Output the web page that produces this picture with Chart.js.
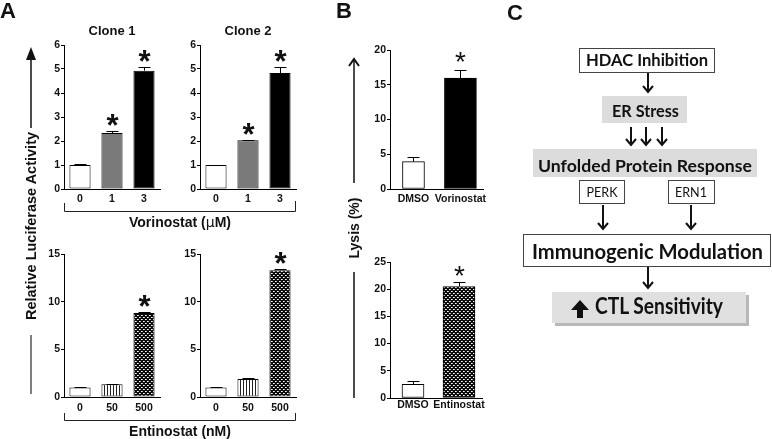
<!DOCTYPE html>
<html><head><meta charset="utf-8">
<script src="https://cdn.jsdelivr.net/npm/chart.js@4"></script>
<style>
html,body{margin:0;padding:0;background:#fff;}
#wrap{position:relative;width:772px;height:439px;overflow:hidden;background:#fff;}
canvas{position:absolute;}
#ov{position:absolute;left:0;top:0;pointer-events:none;}
</style></head><body>
<div id="wrap">
<canvas id="cA1"></canvas><canvas id="cA2"></canvas><canvas id="cA3"></canvas><canvas id="cA4"></canvas>
<canvas id="cB1"></canvas><canvas id="cB2"></canvas>
<svg id="ov" width="772" height="439" xmlns="http://www.w3.org/2000/svg">
 <g font-family="Liberation Sans, Arial, sans-serif" font-weight="bold" fill="#111">
  <text x="0" y="18" font-size="22">A</text>
  <text x="336" y="18" font-size="22">B</text>
  <text x="507" y="20" font-size="22">C</text>
  <text x="112" y="35" font-size="13" text-anchor="middle">Clone 1</text>
  <text x="248" y="35" font-size="13" text-anchor="middle">Clone 2</text>
  <text x="180" y="227" font-size="14" text-anchor="middle">Vorinostat (<tspan font-weight="normal" font-family="DejaVu Sans">μ</tspan>M)</text>
  <text x="180" y="436" font-size="14" text-anchor="middle">Entinostat (nM)</text>
  <text transform="translate(36,226) rotate(-90)" font-size="14.5" text-anchor="middle">Relative Luciferase Activity</text>
  <text transform="translate(359,228) rotate(-90)" font-size="14" text-anchor="middle">Lysis (%)</text>
 </g>
 <g fill="none" stroke="#222" stroke-width="1">
  <path d="M64.5,203 V211.5 H295.5 V201"/>
  <path d="M64.5,413 V420.5 H295.5 V413"/>
 </g>
 <g stroke="#111" fill="#111">
  <line x1="31" y1="58" x2="31" y2="128" stroke-width="1.5"/>
  <polygon points="31,47 26,60 36,60" stroke="none"/>
  <line x1="31" y1="335" x2="31" y2="394" stroke="#555" stroke-width="1.5"/>
  <line x1="354" y1="59" x2="354" y2="183" stroke-width="1.5"/>
  <path d="M349,66 L354,59 L359,66" fill="none" stroke-width="2"/>
  <line x1="354" y1="272" x2="354" y2="398" stroke-width="1.5"/>
 </g>
 <!-- Panel C -->
 <g font-family="Lato, 'Open Sans', sans-serif" fill="#111" text-anchor="middle">
  <rect x="579.5" y="48.5" width="135" height="24" fill="#fff" stroke="#444"/>
  <text x="647" y="66" font-size="17.5" font-weight="700" textLength="122" lengthAdjust="spacingAndGlyphs">HDAC Inhibition</text>
  <rect x="602" y="96" width="85" height="27" fill="#dcdcdc"/>
  <text x="645.5" y="117" font-size="17.5" font-weight="700" textLength="67" lengthAdjust="spacingAndGlyphs">ER Stress</text>
  <rect x="533" y="149" width="224" height="28" fill="#dcdcdc"/>
  <text x="645" y="172" font-size="17.5" font-weight="700" textLength="214" lengthAdjust="spacingAndGlyphs">Unfolded Protein Response</text>
  <rect x="579.5" y="180.5" width="45" height="23" fill="#fff" stroke="#444"/>
  <text x="602" y="197" font-size="13" textLength="31" lengthAdjust="spacingAndGlyphs">PERK</text>
  <rect x="668.5" y="180.5" width="46" height="23" fill="#fff" stroke="#444"/>
  <text x="691" y="197" font-size="13" textLength="32" lengthAdjust="spacingAndGlyphs">ERN1</text>
  <rect x="523.5" y="234.5" width="247" height="32" fill="#fff" stroke="#444"/>
  <text x="647.5" y="259" font-size="20.5" font-weight="700" textLength="231" lengthAdjust="spacingAndGlyphs">Immunogenic Modulation</text>
  <rect x="555" y="295" width="194" height="31" fill="#b8b8b8"/>
  <rect x="552" y="292" width="194" height="31" fill="#e0e0e0"/>
  <text x="595" y="314" font-size="22.5" font-weight="700" text-anchor="start" textLength="128" lengthAdjust="spacingAndGlyphs">CTL Sensitivity</text>
  <polygon points="580,300 571,310 577,310 577,318 583,318 583,310 589,310" fill="#111"/>
 </g>
 <g fill="none" stroke="#111" stroke-width="2">
  <path d="M648,73 V92 M643,86 L648,92 L653,86"/>
  <path d="M631,127 V145 M626,139 L631,145 L636,139"/>
  <path d="M646,127 V145 M641,139 L646,145 L651,139"/>
  <path d="M662,127 V145 M657,139 L662,145 L667,139"/>
  <path d="M603,205 V229 M598,223 L603,229 L608,223"/>
  <path d="M691,205 V229 M686,223 L691,229 L696,223"/>
  <path d="M648,267 V288 M643,282 L648,288 L653,282"/>
 </g>
</svg>
</div>
<script>
// ---------- data ----------
const doseVor = ['0', '1', '3'];
const doseEnt = ['0', '50', '500'];
const clone1Vor = [1.0, 2.33, 4.93];
const clone1VorErr = [0.05, 0.08, 0.17];
const clone2Vor = [1.0, 2.03, 4.83];
const clone2VorErr = [0.02, 0.03, 0.27];
const clone1Ent = [1.0, 1.35, 8.8];
const clone1EntErr = [0.04, 0.05, 0.15];
const clone2Ent = [1.0, 1.9, 13.3];
const clone2EntErr = [0.04, 0.1, 0.12];
const sigDose = [false, true, true];
const sigEntDose = [false, false, true];
const lysisVorLabels = ['DMSO', 'Vorinostat'];
const lysisVor = [3.94, 15.96];
const lysisVorErr = [0.6, 1.2];
const lysisEntLabels = ['DMSO', 'Entinostat'];
const lysisEnt = [2.5, 20.5];
const lysisEntErr = [0.7, 0.8];
const sigLysis = [false, true];
const yTicksA = [6, 1];
const yTicksAEnt = [15, 5];
const yTicksBVor = [20, 5];
const yTicksBEnt = [25, 5];

// ---------- fills ----------
function stripePattern() {
  const c = document.createElement('canvas'); c.width = 3; c.height = 3;
  const x = c.getContext('2d');
  x.fillStyle = '#fff'; x.fillRect(0, 0, 3, 3);
  x.fillStyle = '#222'; x.fillRect(0, 0, 1, 3);
  return x.createPattern(c, 'repeat');
}
function crossPattern() {
  const c = document.createElement('canvas'); c.width = 4; c.height = 4;
  const x = c.getContext('2d');
  x.fillStyle = '#0c0c0c'; x.fillRect(0, 0, 4, 4);
  x.fillStyle = '#fff'; x.fillRect(1, 1, 1, 1); x.fillRect(3, 3, 1, 1);
  x.fillStyle = '#bbb'; x.fillRect(2, 1, 1, 1); x.fillRect(0, 3, 1, 1);
  return x.createPattern(c, 'repeat');
}
const STRIPE = stripePattern();
const CROSS = crossPattern();

Chart.defaults.font.family = "'Liberation Sans', Arial, sans-serif";
Chart.defaults.font.weight = 'bold';
Chart.defaults.font.size = 10;
Chart.defaults.color = '#111';

const errPlugin = {
  id: 'errStars',
  afterDatasetsDraw(chart, args, o) {
    const ctx = chart.ctx, ys = chart.scales.y;
    ctx.save();
    ctx.strokeStyle = '#000'; ctx.lineWidth = 1; ctx.fillStyle = '#111';
    chart.data.datasets.forEach((ds, di) => {
      const meta = chart.getDatasetMeta(di);
      meta.data.forEach((el, i) => {
        const v = ds.data[i];
        if (v == null) return;
        const yT = Math.round(ys.getPixelForValue(v + o.errors[i])) + 0.5;
        const x = Math.round(el.x) + 0.5;
        ctx.beginPath();
        ctx.moveTo(x, el.y); ctx.lineTo(x, yT);
        ctx.moveTo(x - o.cap, yT); ctx.lineTo(x + o.cap, yT);
        ctx.stroke();
        if (o.stars[i]) {
          ctx.font = o.starFont;
          ctx.textAlign = 'center'; ctx.textBaseline = 'alphabetic';
          const m = ctx.measureText('*');
          const cy = yT - o.starGap;
          ctx.fillText('*', x, cy + (m.actualBoundingBoxAscent - m.actualBoundingBoxDescent) / 2);
        }
      });
    });
    ctx.restore();
  }
};

function makeChart(id, area, labels, datasets, yt, errors, stars, extra) {
  const yw = 26, pt = 10, pr = extra.pr || 6, xh = 22;
  const cv = document.getElementById(id);
  const L = area[0] - yw, T = area[1] - pt;
  cv.width = area[2] - L + pr; cv.height = area[3] - T + xh;
  cv.style.left = L + 'px'; cv.style.top = T + 'px';
  return new Chart(cv, {
    type: 'bar',
    data: { labels, datasets },
    options: {
      responsive: false, animation: false, devicePixelRatio: 1,
      layout: { padding: { top: pt, right: pr, bottom: 0, left: 0 } },
      plugins: { legend: { display: false }, tooltip: { enabled: false },
        errStars: { errors, stars, cap: extra.cap, starGap: extra.gap, starFont: extra.starFont } },
      scales: {
        x: {
          grid: { display: true, drawOnChartArea: false, drawTicks: false },
          border: { display: true, color: '#000', width: 1 },
          ticks: { padding: extra.xpad, color: '#111', maxRotation: 0, autoSkip: false, font: { size: 10.5, weight: 'bold' } },
          afterFit: s => { s.height = xh; }
        },
        y: {
          min: 0, max: yt[0],
          grid: { display: true, drawOnChartArea: false, drawTicks: true, tickLength: 3, color: '#000' },
          border: { display: true, color: '#000', width: 1 },
          ticks: { stepSize: yt[1], padding: 1, color: '#111', font: { size: 10.5, weight: 'bold' } },
          afterFit: s => { s.width = yw; }
        }
      }
    },
    plugins: [errPlugin]
  });
}

const barA = (vals, fills) => [{ data: vals, backgroundColor: fills, borderColor: '#000', borderWidth: 1,
  borderSkipped: false, barPercentage: 0.66, categoryPercentage: 1 }];
const optA = { cap: 6, gap: 12, starFont: "bold 31px 'Liberation Sans', Arial", xpad: 4 };
const optAE = { cap: 6, gap: 12, starFont: "bold 31px 'Liberation Sans', Arial", xpad: 5 };

makeChart('cA1', [64, 45, 160, 189], doseVor, barA(clone1Vor, ['#fff', '#7a7a7a', '#000']), yTicksA, clone1VorErr, sigDose, optA);
makeChart('cA2', [200, 45, 296, 189], doseVor, barA(clone2Vor, ['#fff', '#7a7a7a', '#000']), yTicksA, clone2VorErr, sigDose, optA);
makeChart('cA3', [64, 254, 160, 397], doseEnt, barA(clone1Ent, ['#fff', STRIPE, CROSS]), yTicksAEnt, clone1EntErr, sigEntDose, optAE);
makeChart('cA4', [200, 254, 296, 397], doseEnt, barA(clone2Ent, ['#fff', STRIPE, CROSS]), yTicksAEnt, clone2EntErr, sigEntDose, optAE);

const barB = (vals, fill2) => [
  { data: vals.map((v, i) => i === 0 ? v : null), backgroundColor: '#fff', borderColor: '#000', borderWidth: 1, borderSkipped: false, barThickness: 22, grouped: false },
  { data: vals.map((v, i) => i === 1 ? v : null), backgroundColor: fill2, borderColor: '#000', borderWidth: 1, borderSkipped: false, barThickness: 32, grouped: false }
];
const optB = { cap: 6, gap: 14, starFont: "28px 'Liberation Sans', Arial", xpad: 4, pr: 8 };
const optB2 = { cap: 6, gap: 12, starFont: "28px 'Liberation Sans', Arial", xpad: 1, pr: 8 };
makeChart('cB1', [390, 50, 484, 189], lysisVorLabels, barB(lysisVor, '#000'), yTicksBVor, lysisVorErr, sigLysis, optB);
makeChart('cB2', [390, 262, 482, 398], lysisEntLabels, barB(lysisEnt, CROSS), yTicksBEnt, lysisEntErr, sigLysis, optB2);
</script>
</body></html>
